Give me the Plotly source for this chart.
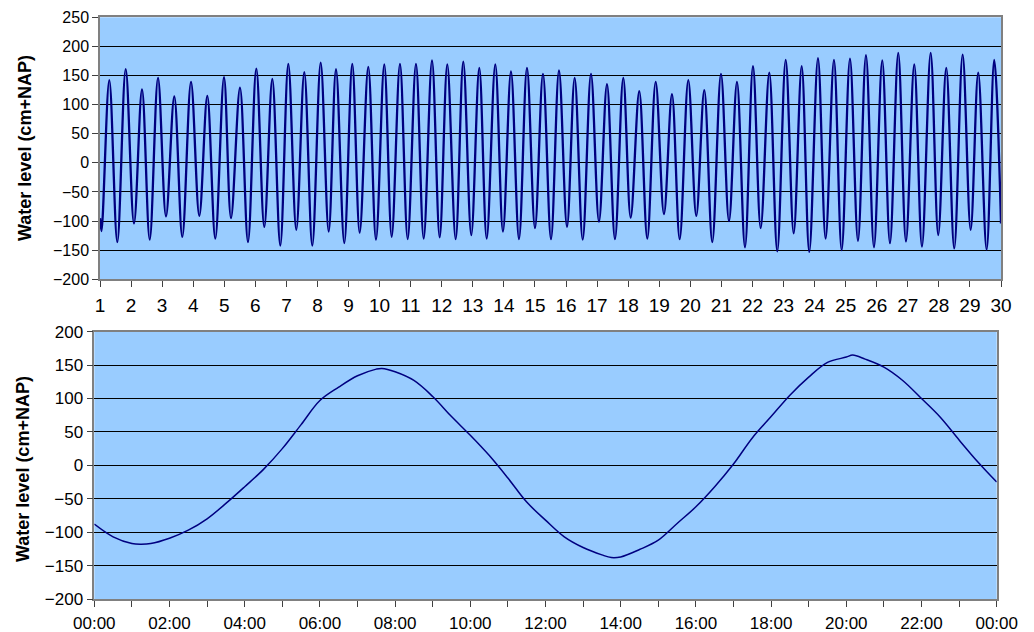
import plotly.graph_objects as go

# ---- Top panel: 30-day record, successive high/low waters (day of month, cm+NAP)
top_days = [1.000, 1.048, 1.299, 1.557, 1.827, 2.094, 2.352, 2.600, 2.867, 3.124,
            3.391, 3.649, 3.929, 4.196, 4.454, 4.711, 4.991, 5.216, 5.506, 5.763,
            6.031, 6.288, 6.546, 6.803, 7.061, 7.318, 7.576, 7.833, 8.103, 8.361,
            8.596, 8.863, 9.120, 9.358, 9.635, 9.883, 10.150, 10.388, 10.655, 10.903,
            11.170, 11.418, 11.686, 11.933, 12.178, 12.448, 12.693, 12.950, 13.208, 13.446,
            13.723, 13.970, 14.228, 14.486, 14.743, 15.000, 15.258, 15.516, 15.773, 16.031,
            16.278, 16.536, 16.803, 17.060, 17.318, 17.575, 17.842, 18.080, 18.357, 18.615,
            18.885, 19.152, 19.410, 19.658, 19.935, 20.192, 20.450, 20.707, 20.987, 21.245,
            21.502, 21.760, 22.017, 22.265, 22.542, 22.799, 23.070, 23.327, 23.585, 23.829,
            24.109, 24.355, 24.624, 24.871, 25.139, 25.396, 25.654, 25.911, 26.178, 26.426,
            26.693, 26.941, 27.208, 27.456, 27.736, 27.980, 28.238, 28.495, 28.765, 29.023,
            29.267, 29.537, 29.782, 30.000]
top_level = [-95, -117, 142, -136, 161, -104, 126, -132, 146, -92,
             114, -127, 139, -91, 115, -130, 147, -95, 129, -136,
             162, -110, 144, -142, 170, -115, 156, -142, 172, -118,
             161, -138, 170, -120, 165, -132, 169, -127, 170, -131,
             170, -130, 176, -128, 169, -131, 174, -124, 163, -130,
             169, -118, 157, -131, 163, -112, 153, -131, 159, -110,
             146, -132, 153, -101, 135, -131, 146, -94, 123, -130,
             139, -88, 118, -131, 142, -91, 125, -136, 153, -100,
             139, -145, 166, -112, 155, -152, 177, -121, 166, -153,
             180, -130, 177, -150, 179, -134, 185, -145, 176, -138,
             189, -135, 169, -144, 189, -124, 163, -147, 186, -115,
             155, -149, 177, -104]
top_tick_vals = list(range(1, 31))
top_tick_text = [str(d) for d in top_tick_vals]

# ---- Bottom panel: one day (hours, cm+NAP)
bot_hours = [0, 0.5, 1.0, 1.25, 1.5, 2.0, 2.5, 3.0, 3.5, 4.0, 4.5, 5.0, 5.5, 6.0, 6.5,
             7.0, 7.5, 7.65, 8.0, 8.5, 9.0, 9.5, 10.0, 10.5, 11.0, 11.5, 12.0, 12.5,
             13.0, 13.5, 13.75, 14.0, 14.5, 15.0, 15.5, 16.0, 16.5, 17.0, 17.5, 18.0,
             18.5, 19.0, 19.5, 20.0, 20.17, 20.5, 21.0, 21.5, 22.0, 22.5, 23.0, 23.5, 24.0]
bot_level = [-88, -107, -117, -118, -117, -109, -97, -80, -57, -32, -6, 25, 61, 97, 117,
             134, 144, 145, 140, 127, 103, 73, 45, 15, -19, -55, -82, -107,
             -123, -134, -138, -137, -126, -112, -87, -62, -32, 2, 41, 73,
             105, 132, 154, 162, 165, 159, 147, 127, 100, 72, 38, 5, -25]
bot_tick_vals = list(range(0, 25))
bot_tick_text = [("%02d:00" % (h % 24)) if h % 2 == 0 else "" for h in bot_tick_vals]

y_title = "Water level (cm+NAP)"
FONT = "Liberation Sans, Arial, sans-serif"
W, H = 1034, 632

fig = go.Figure()
fig.add_trace(go.Scatter(x=top_days, y=top_level, mode="lines",
                         line=dict(color="#000080", width=2.3, shape="spline", smoothing=1.0),
                         xaxis="x", yaxis="y", showlegend=False, hoverinfo="skip"))
fig.add_trace(go.Scatter(x=bot_hours, y=bot_level, mode="lines",
                         line=dict(color="#000080", width=1.5, shape="spline", smoothing=1.0),
                         xaxis="x2", yaxis="y2", showlegend=False, hoverinfo="skip"))

def axis_common(size):
    return dict(showline=True, linecolor="#808080", linewidth=1.5, mirror=True,
                ticks="outside", ticklen=6, tickcolor="#404040", tickwidth=1,
                tickfont=dict(family=FONT, size=size, color="black"), zeroline=False,
                automargin=False)

fig.update_layout(
    width=W, height=H, autosize=False,
    margin=dict(l=0, r=0, t=0, b=0, pad=0, autoexpand=False),
    paper_bgcolor="white", plot_bgcolor="#99CCFF",
    font=dict(family=FONT, size=16, color="black"),
    xaxis=dict(domain=[100 / W, 1001 / W], anchor="y", range=[1, 30],
               tickmode="array", tickvals=top_tick_vals, ticktext=top_tick_text,
               showgrid=False, ticklabelstandoff=2, **axis_common(19)),
    yaxis=dict(domain=[1 - 279.3 / H, 1 - 17.3 / H], anchor="x", range=[-200, 250],
               dtick=50, tick0=0, showgrid=True, gridcolor="#000000", gridwidth=1,
               **axis_common(16)),
    xaxis2=dict(domain=[94.3 / W, 996.7 / W], anchor="y2", range=[0, 24],
                tickmode="array", tickvals=bot_tick_vals, ticktext=bot_tick_text,
                showgrid=False, ticklabelstandoff=2, **axis_common(17)),
    yaxis2=dict(domain=[1 - 599 / H, 1 - 331.7 / H], anchor="x2", range=[-200, 200],
                dtick=50, tick0=0, showgrid=True, gridcolor="#000000", gridwidth=1,
                **axis_common(17)),
    annotations=[
        dict(text="<b>%s</b>" % y_title, xref="paper", yref="paper",
             x=25 / W, y=1 - 148 / H, xanchor="center", yanchor="middle",
             textangle=-90, showarrow=False, font=dict(family=FONT, size=18, color="black")),
        dict(text="<b>%s</b>" % y_title, xref="paper", yref="paper",
             x=23 / W, y=1 - 469 / H, xanchor="center", yanchor="middle",
             textangle=-90, showarrow=False, font=dict(family=FONT, size=18, color="black")),
    ],
)

fig.write_html("out.html")
